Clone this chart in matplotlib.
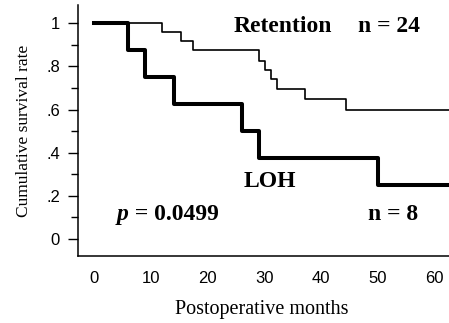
import matplotlib

matplotlib.use("Agg")
import matplotlib.pyplot as plt

# Kaplan-Meier steps (months, survival)
retention_t = [0, 12, 15.3, 17.4, 29.1, 30.1, 31.1, 32.3, 37.1, 44.3, 63]
retention_s = [1.0, 0.958, 0.917, 0.875, 0.825, 0.785, 0.74, 0.695, 0.65, 0.60, 0.60]
loh_t = [0, 6, 9, 14, 26, 29, 50, 63]
loh_s = [1.0, 0.875, 0.75, 0.625, 0.5, 0.375, 0.25, 0.25]

xticks = [0, 10, 20, 30, 40, 50, 60]
yticks = [0, 0.2, 0.4, 0.6, 0.8, 1.0]
ytick_labels = ["0", ".2", ".4", ".6", ".8", "1"]

SANS = "Liberation Sans"
SERIF = "Liberation Serif"

fig = plt.figure(figsize=(4.49, 3.23), dpi=100)
ax = fig.add_axes([78 / 449, 67 / 323, 371 / 449, 251 / 323])

ax.step(retention_t, retention_s, where="post", color="black", lw=1.2)
ax.step(loh_t, loh_s, where="post", color="black", lw=2.9)

ax.set_xlim(-2.82, 62.5)
ax.set_ylim(-0.079, 1.085)
ax.spines["top"].set_visible(False)
ax.spines["right"].set_visible(False)
for s in ("left", "bottom"):
    ax.spines[s].set_linewidth(1.1)

ax.set_xticks(xticks)
ax.set_xticklabels([str(v) for v in xticks], fontfamily=SANS, fontsize=12)
ax.tick_params(axis="x", length=0, pad=11)
ax.set_yticks(yticks)
ax.set_yticks([0.1, 0.3, 0.5, 0.7, 0.9], minor=True)
ax.set_yticklabels(ytick_labels, fontfamily=SANS, fontsize=12)
ax.tick_params(axis="y", which="major", length=7, width=1.0, pad=6)
ax.tick_params(axis="y", which="minor", length=5, width=1.0)

ax.set_xlabel("Postoperative months", fontfamily=SERIF, fontsize=14.5)
ax.xaxis.set_label_coords(0.4946, -0.175)
ax.set_ylabel("Cumulative survival rate", fontfamily=SERIF, fontsize=12.5)
ax.yaxis.set_label_coords(-0.124, 0.5)

bold = dict(fontfamily=SERIF, fontweight="bold", fontsize=17, va="baseline")
ax.text(24.5, 0.958, "Retention", **bold)
ax.text(46.5, 0.958, "n = 24", **bold)
ax.text(26.3, 0.2425, "LOH", **bold)
ax.text(48.3, 0.088, "n = 8", **bold)
ptxt = ax.text(4.0, 0.088, "p", fontstyle="italic", **bold)
ax.annotate(" = 0.0499", xy=(1, 0), xycoords=ptxt, fontfamily=SERIF,
            fontweight="bold", fontsize=17, va="bottom", ha="left")

fig.savefig("out.png", dpi=100)
